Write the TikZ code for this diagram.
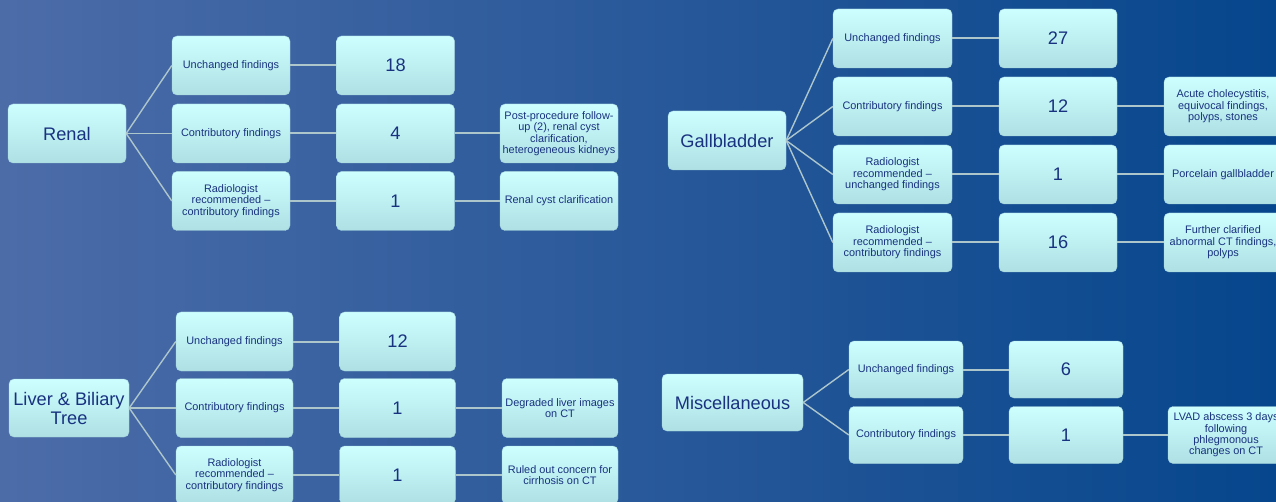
\documentclass[tikz,border=0pt]{standalone}
\usepackage{fontspec}
\setmainfont{Liberation Sans}
\definecolor{bgL}{RGB}{76,108,168}
\definecolor{bgM}{RGB}{40,90,156}
\definecolor{bgR}{RGB}{6,70,140}
\definecolor{boxT}{RGB}{206,255,255}
\definecolor{boxB}{RGB}{174,224,228}
\definecolor{boxE}{RGB}{165,210,218}
\definecolor{txt}{RGB}{24,50,128}
\definecolor{lnk}{RGB}{172,198,204}
\begin{document}
\begin{tikzpicture}[x=1pt,y=-1pt,
  bx/.style={rounded corners=5pt, top color=boxT, bottom color=boxB, draw=boxE, line width=0.4pt,
             inner sep=0pt, align=center, text=txt, font=\fontsize{10.9}{11.4}\selectfont},
  big/.style={bx, font=\fontsize{18.2}{19}\selectfont},
  sz/.style 2 args={minimum width=#1pt, minimum height=#2pt},
  fan/.style={draw=lnk, line width=1.4pt},
  hl/.style={draw=lnk, line width=2pt}]
\useasboundingbox (0,0) rectangle (1276,502);
\clip (0,0) rectangle (1276,502);
\shade[left color=bgL, middle color=bgM, right color=bgR] (0,0) rectangle (1276,502);

% Renal
\node[big, sz={118}{59}] (R0) at (67,133.5) {Renal};
\node[bx, sz={118}{59}] (R1) at (231,65.5) {Unchanged findings};
\node[bx, sz={118}{59}] (R2) at (231,133.5) {Contributory findings};
\node[bx, sz={118}{59}] (R3) at (231,201) {Radiologist\\recommended –\\contributory findings};
\node[big, sz={118}{59}] (R1n) at (395.5,65.5) {18};
\node[big, sz={118}{59}] (R2n) at (395.5,133.5) {4};
\node[big, sz={118}{59}] (R3n) at (395.5,201) {1};
\node[bx, sz={118}{59}] (R2d) at (559,133.5) {Post-procedure follow-\\up (2), renal cyst\\clarification,\\heterogeneous kidneys};
\node[bx, sz={118}{59}] (R3d) at (559,201) {Renal cyst clarification};
\draw[fan] (R0.east) -- (R1.west);
\draw[fan] (R0.east) -- (R2.west);
\draw[fan] (R0.east) -- (R3.west);
\draw[hl] (R1) -- (R1n);
\draw[hl] (R2) -- (R2n);
\draw[hl] (R3) -- (R3n);
\draw[hl] (R2n) -- (R2d);
\draw[hl] (R3n) -- (R3d);

% Gallbladder
\node[big, sz={118}{59}] (G0) at (727,140.5) {Gallbladder};
\node[bx, sz={119}{59}] (G1) at (892.5,38.5) {Unchanged findings};
\node[bx, sz={119}{59}] (G2) at (892.5,106.5) {Contributory findings};
\node[bx, sz={119}{59}] (G3) at (892.5,174.5) {Radiologist\\recommended –\\unchanged findings};
\node[bx, sz={119}{59}] (G4) at (892.5,242.5) {Radiologist\\recommended –\\contributory findings};
\node[big, sz={118}{59}] (G1n) at (1058,38.5) {27};
\node[big, sz={118}{59}] (G2n) at (1058,106.5) {12};
\node[big, sz={118}{59}] (G3n) at (1058,174.5) {1};
\node[big, sz={118}{59}] (G4n) at (1058,242.5) {16};
\node[bx, sz={118}{59}] (G2d) at (1223,106.5) {Acute cholecystitis,\\equivocal findings,\\polyps, stones};
\node[bx, sz={118}{59}] (G3d) at (1223,174.5) {Porcelain gallbladder};
\node[bx, sz={118}{59}] (G4d) at (1223,242.5) {Further clarified\\abnormal CT findings,\\polyps};
\draw[fan] (G0.east) -- (G1.west);
\draw[fan] (G0.east) -- (G2.west);
\draw[fan] (G0.east) -- (G3.west);
\draw[fan] (G0.east) -- (G4.west);
\draw[hl] (G1) -- (G1n);
\draw[hl] (G2) -- (G2n);
\draw[hl] (G3) -- (G3n);
\draw[hl] (G4) -- (G4n);
\draw[hl] (G2n) -- (G2d);
\draw[hl] (G3n) -- (G3d);
\draw[hl] (G4n) -- (G4d);

% Liver & Biliary Tree
\node[big, sz={120}{58}] (L0) at (69,408) {Liver \& Biliary\\Tree};
\node[bx, sz={117}{59}] (L1) at (234.5,341.5) {Unchanged findings};
\node[bx, sz={117}{59}] (L2) at (234.5,408) {Contributory findings};
\node[bx, sz={117}{58}] (L3) at (234.5,475) {Radiologist\\recommended –\\contributory findings};
\node[big, sz={116}{59}] (L1n) at (397.5,341.5) {12};
\node[big, sz={116}{59}] (L2n) at (397.5,408) {1};
\node[big, sz={116}{58}] (L3n) at (397.5,475) {1};
\node[bx, sz={116}{59}] (L2d) at (560,408) {Degraded liver images\\on CT};
\node[bx, sz={116}{58}] (L3d) at (560,475) {Ruled out concern for\\cirrhosis on CT};
\draw[fan] (L0.east) -- (L1.west);
\draw[fan] (L0.east) -- (L2.west);
\draw[fan] (L0.east) -- (L3.west);
\draw[hl] (L1) -- (L1n);
\draw[hl] (L2) -- (L2n);
\draw[hl] (L3) -- (L3n);
\draw[hl] (L2n) -- (L2d);
\draw[hl] (L3n) -- (L3d);

% Miscellaneous
\node[big, sz={141}{57}] (M0) at (732.5,402.5) {Miscellaneous};
\node[bx, sz={114}{57}] (M1) at (906,369.5) {Unchanged findings};
\node[bx, sz={114}{57}] (M2) at (906,435) {Contributory findings};
\node[big, sz={114}{57}] (M1n) at (1066,369.5) {6};
\node[big, sz={114}{57}] (M2n) at (1066,435) {1};
\node[bx, sz={116}{57}] (M2d) at (1226,435) {LVAD abscess 3 days\\following\\phlegmonous\\changes on CT};
\draw[fan] (M0.east) -- (M1.west);
\draw[fan] (M0.east) -- (M2.west);
\draw[hl] (M1) -- (M1n);
\draw[hl] (M2) -- (M2n);
\draw[hl] (M2n) -- (M2d);
\end{tikzpicture}
\end{document}
